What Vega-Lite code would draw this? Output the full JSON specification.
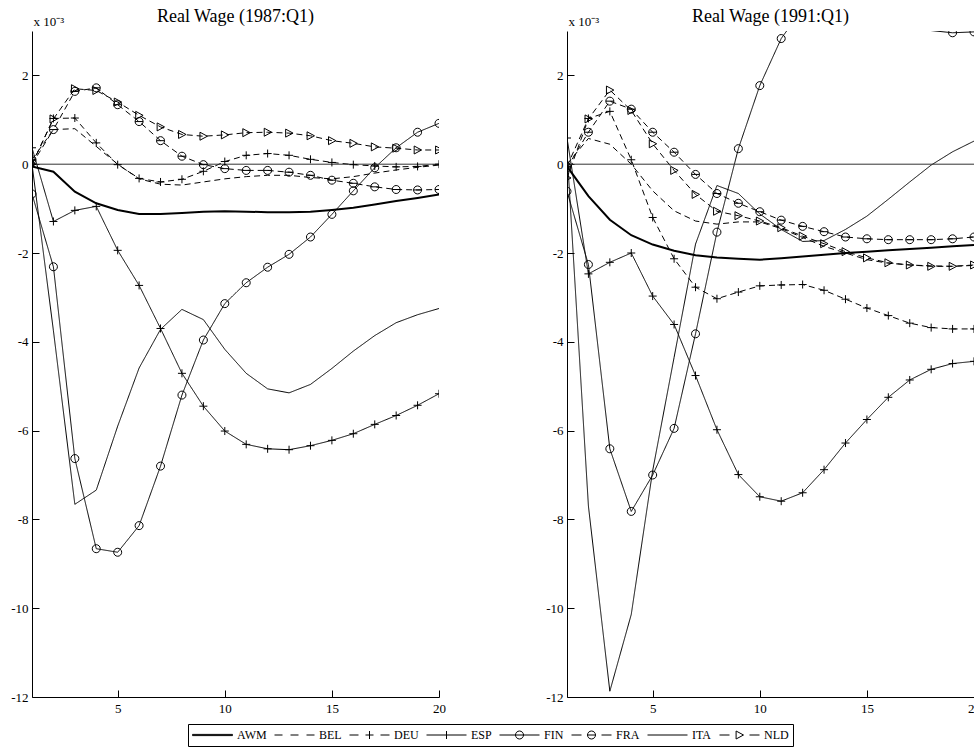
{
  "$schema": "https://vega.github.io/schema/vega-lite/v6.json",
  "padding": {"left": 10, "top": 8, "right": 0, "bottom": 0},
  "background": "white",
  "config": {
    "font": "Liberation Serif",
    "view": {"stroke": null},
    "axis": {"grid": false, "domainColor": "black", "tickColor": "black", "labelColor": "black", "labelFont": "Liberation Serif", "labelFontSize": 13}
  },
  "data": {"values": [
    {"panel":"1987:Q1","series":"AWM","q":1,"value":-0.05},{"panel":"1987:Q1","series":"AWM","q":2,"value":-0.17},{"panel":"1987:Q1","series":"AWM","q":3,"value":-0.62},{"panel":"1987:Q1","series":"AWM","q":4,"value":-0.88},{"panel":"1987:Q1","series":"AWM","q":5,"value":-1.03},{"panel":"1987:Q1","series":"AWM","q":6,"value":-1.12},{"panel":"1987:Q1","series":"AWM","q":7,"value":-1.12},{"panel":"1987:Q1","series":"AWM","q":8,"value":-1.10},{"panel":"1987:Q1","series":"AWM","q":9,"value":-1.07},{"panel":"1987:Q1","series":"AWM","q":10,"value":-1.06},{"panel":"1987:Q1","series":"AWM","q":11,"value":-1.07},{"panel":"1987:Q1","series":"AWM","q":12,"value":-1.08},{"panel":"1987:Q1","series":"AWM","q":13,"value":-1.08},{"panel":"1987:Q1","series":"AWM","q":14,"value":-1.07},{"panel":"1987:Q1","series":"AWM","q":15,"value":-1.03},{"panel":"1987:Q1","series":"AWM","q":16,"value":-0.98},{"panel":"1987:Q1","series":"AWM","q":17,"value":-0.91},{"panel":"1987:Q1","series":"AWM","q":18,"value":-0.83},{"panel":"1987:Q1","series":"AWM","q":19,"value":-0.76},{"panel":"1987:Q1","series":"AWM","q":20,"value":-0.68},
    {"panel":"1987:Q1","series":"BEL","q":1,"value":0.0},{"panel":"1987:Q1","series":"BEL","q":2,"value":0.78},{"panel":"1987:Q1","series":"BEL","q":3,"value":0.80},{"panel":"1987:Q1","series":"BEL","q":4,"value":0.40},{"panel":"1987:Q1","series":"BEL","q":5,"value":0.0},{"panel":"1987:Q1","series":"BEL","q":6,"value":-0.33},{"panel":"1987:Q1","series":"BEL","q":7,"value":-0.45},{"panel":"1987:Q1","series":"BEL","q":8,"value":-0.47},{"panel":"1987:Q1","series":"BEL","q":9,"value":-0.40},{"panel":"1987:Q1","series":"BEL","q":10,"value":-0.33},{"panel":"1987:Q1","series":"BEL","q":11,"value":-0.28},{"panel":"1987:Q1","series":"BEL","q":12,"value":-0.25},{"panel":"1987:Q1","series":"BEL","q":13,"value":-0.25},{"panel":"1987:Q1","series":"BEL","q":14,"value":-0.30},{"panel":"1987:Q1","series":"BEL","q":15,"value":-0.33},{"panel":"1987:Q1","series":"BEL","q":16,"value":-0.28},{"panel":"1987:Q1","series":"BEL","q":17,"value":-0.20},{"panel":"1987:Q1","series":"BEL","q":18,"value":-0.13},{"panel":"1987:Q1","series":"BEL","q":19,"value":-0.07},{"panel":"1987:Q1","series":"BEL","q":20,"value":-0.02},
    {"panel":"1987:Q1","series":"DEU","q":1,"value":0.0},{"panel":"1987:Q1","series":"DEU","q":2,"value":1.03},{"panel":"1987:Q1","series":"DEU","q":3,"value":1.04},{"panel":"1987:Q1","series":"DEU","q":4,"value":0.48},{"panel":"1987:Q1","series":"DEU","q":5,"value":-0.01},{"panel":"1987:Q1","series":"DEU","q":6,"value":-0.32},{"panel":"1987:Q1","series":"DEU","q":7,"value":-0.40},{"panel":"1987:Q1","series":"DEU","q":8,"value":-0.34},{"panel":"1987:Q1","series":"DEU","q":9,"value":-0.16},{"panel":"1987:Q1","series":"DEU","q":10,"value":0.06},{"panel":"1987:Q1","series":"DEU","q":11,"value":0.20},{"panel":"1987:Q1","series":"DEU","q":12,"value":0.24},{"panel":"1987:Q1","series":"DEU","q":13,"value":0.20},{"panel":"1987:Q1","series":"DEU","q":14,"value":0.11},{"panel":"1987:Q1","series":"DEU","q":15,"value":0.04},{"panel":"1987:Q1","series":"DEU","q":16,"value":-0.01},{"panel":"1987:Q1","series":"DEU","q":17,"value":-0.04},{"panel":"1987:Q1","series":"DEU","q":18,"value":-0.06},{"panel":"1987:Q1","series":"DEU","q":19,"value":-0.05},{"panel":"1987:Q1","series":"DEU","q":20,"value":0.0},
    {"panel":"1987:Q1","series":"ESP","q":1,"value":0.37},{"panel":"1987:Q1","series":"ESP","q":2,"value":-1.29},{"panel":"1987:Q1","series":"ESP","q":3,"value":-1.04},{"panel":"1987:Q1","series":"ESP","q":4,"value":-0.95},{"panel":"1987:Q1","series":"ESP","q":5,"value":-1.94},{"panel":"1987:Q1","series":"ESP","q":6,"value":-2.73},{"panel":"1987:Q1","series":"ESP","q":7,"value":-3.70},{"panel":"1987:Q1","series":"ESP","q":8,"value":-4.71},{"panel":"1987:Q1","series":"ESP","q":9,"value":-5.45},{"panel":"1987:Q1","series":"ESP","q":10,"value":-6.01},{"panel":"1987:Q1","series":"ESP","q":11,"value":-6.31},{"panel":"1987:Q1","series":"ESP","q":12,"value":-6.41},{"panel":"1987:Q1","series":"ESP","q":13,"value":-6.43},{"panel":"1987:Q1","series":"ESP","q":14,"value":-6.34},{"panel":"1987:Q1","series":"ESP","q":15,"value":-6.22},{"panel":"1987:Q1","series":"ESP","q":16,"value":-6.07},{"panel":"1987:Q1","series":"ESP","q":17,"value":-5.86},{"panel":"1987:Q1","series":"ESP","q":18,"value":-5.66},{"panel":"1987:Q1","series":"ESP","q":19,"value":-5.43},{"panel":"1987:Q1","series":"ESP","q":20,"value":-5.17},
    {"panel":"1987:Q1","series":"FIN","q":1,"value":-0.67},{"panel":"1987:Q1","series":"FIN","q":2,"value":-2.31},{"panel":"1987:Q1","series":"FIN","q":3,"value":-6.63},{"panel":"1987:Q1","series":"FIN","q":4,"value":-8.66},{"panel":"1987:Q1","series":"FIN","q":5,"value":-8.74},{"panel":"1987:Q1","series":"FIN","q":6,"value":-8.14},{"panel":"1987:Q1","series":"FIN","q":7,"value":-6.80},{"panel":"1987:Q1","series":"FIN","q":8,"value":-5.20},{"panel":"1987:Q1","series":"FIN","q":9,"value":-3.96},{"panel":"1987:Q1","series":"FIN","q":10,"value":-3.14},{"panel":"1987:Q1","series":"FIN","q":11,"value":-2.67},{"panel":"1987:Q1","series":"FIN","q":12,"value":-2.32},{"panel":"1987:Q1","series":"FIN","q":13,"value":-2.03},{"panel":"1987:Q1","series":"FIN","q":14,"value":-1.64},{"panel":"1987:Q1","series":"FIN","q":15,"value":-1.13},{"panel":"1987:Q1","series":"FIN","q":16,"value":-0.60},{"panel":"1987:Q1","series":"FIN","q":17,"value":-0.08},{"panel":"1987:Q1","series":"FIN","q":18,"value":0.37},{"panel":"1987:Q1","series":"FIN","q":19,"value":0.72},{"panel":"1987:Q1","series":"FIN","q":20,"value":0.92},
    {"panel":"1987:Q1","series":"FRA","q":1,"value":0.10},{"panel":"1987:Q1","series":"FRA","q":2,"value":0.78},{"panel":"1987:Q1","series":"FRA","q":3,"value":1.64},{"panel":"1987:Q1","series":"FRA","q":4,"value":1.72},{"panel":"1987:Q1","series":"FRA","q":5,"value":1.34},{"panel":"1987:Q1","series":"FRA","q":6,"value":0.96},{"panel":"1987:Q1","series":"FRA","q":7,"value":0.53},{"panel":"1987:Q1","series":"FRA","q":8,"value":0.18},{"panel":"1987:Q1","series":"FRA","q":9,"value":-0.01},{"panel":"1987:Q1","series":"FRA","q":10,"value":-0.10},{"panel":"1987:Q1","series":"FRA","q":11,"value":-0.14},{"panel":"1987:Q1","series":"FRA","q":12,"value":-0.14},{"panel":"1987:Q1","series":"FRA","q":13,"value":-0.18},{"panel":"1987:Q1","series":"FRA","q":14,"value":-0.25},{"panel":"1987:Q1","series":"FRA","q":15,"value":-0.36},{"panel":"1987:Q1","series":"FRA","q":16,"value":-0.43},{"panel":"1987:Q1","series":"FRA","q":17,"value":-0.51},{"panel":"1987:Q1","series":"FRA","q":18,"value":-0.57},{"panel":"1987:Q1","series":"FRA","q":19,"value":-0.58},{"panel":"1987:Q1","series":"FRA","q":20,"value":-0.57},
    {"panel":"1987:Q1","series":"ITA","q":1,"value":0.0},{"panel":"1987:Q1","series":"ITA","q":2,"value":-3.75},{"panel":"1987:Q1","series":"ITA","q":3,"value":-7.66},{"panel":"1987:Q1","series":"ITA","q":4,"value":-7.34},{"panel":"1987:Q1","series":"ITA","q":5,"value":-5.90},{"panel":"1987:Q1","series":"ITA","q":6,"value":-4.59},{"panel":"1987:Q1","series":"ITA","q":7,"value":-3.72},{"panel":"1987:Q1","series":"ITA","q":8,"value":-3.27},{"panel":"1987:Q1","series":"ITA","q":9,"value":-3.50},{"panel":"1987:Q1","series":"ITA","q":10,"value":-4.17},{"panel":"1987:Q1","series":"ITA","q":11,"value":-4.71},{"panel":"1987:Q1","series":"ITA","q":12,"value":-5.06},{"panel":"1987:Q1","series":"ITA","q":13,"value":-5.15},{"panel":"1987:Q1","series":"ITA","q":14,"value":-4.96},{"panel":"1987:Q1","series":"ITA","q":15,"value":-4.60},{"panel":"1987:Q1","series":"ITA","q":16,"value":-4.21},{"panel":"1987:Q1","series":"ITA","q":17,"value":-3.86},{"panel":"1987:Q1","series":"ITA","q":18,"value":-3.57},{"panel":"1987:Q1","series":"ITA","q":19,"value":-3.39},{"panel":"1987:Q1","series":"ITA","q":20,"value":-3.25},
    {"panel":"1987:Q1","series":"NLD","q":1,"value":0.0},{"panel":"1987:Q1","series":"NLD","q":2,"value":1.02},{"panel":"1987:Q1","series":"NLD","q":3,"value":1.70},{"panel":"1987:Q1","series":"NLD","q":4,"value":1.66},{"panel":"1987:Q1","series":"NLD","q":5,"value":1.40},{"panel":"1987:Q1","series":"NLD","q":6,"value":1.10},{"panel":"1987:Q1","series":"NLD","q":7,"value":0.84},{"panel":"1987:Q1","series":"NLD","q":8,"value":0.67},{"panel":"1987:Q1","series":"NLD","q":9,"value":0.63},{"panel":"1987:Q1","series":"NLD","q":10,"value":0.66},{"panel":"1987:Q1","series":"NLD","q":11,"value":0.71},{"panel":"1987:Q1","series":"NLD","q":12,"value":0.72},{"panel":"1987:Q1","series":"NLD","q":13,"value":0.70},{"panel":"1987:Q1","series":"NLD","q":14,"value":0.64},{"panel":"1987:Q1","series":"NLD","q":15,"value":0.53},{"panel":"1987:Q1","series":"NLD","q":16,"value":0.47},{"panel":"1987:Q1","series":"NLD","q":17,"value":0.39},{"panel":"1987:Q1","series":"NLD","q":18,"value":0.36},{"panel":"1987:Q1","series":"NLD","q":19,"value":0.32},{"panel":"1987:Q1","series":"NLD","q":20,"value":0.32},
    {"panel":"1991:Q1","series":"AWM","q":1,"value":-0.05},{"panel":"1991:Q1","series":"AWM","q":2,"value":-0.72},{"panel":"1991:Q1","series":"AWM","q":3,"value":-1.25},{"panel":"1991:Q1","series":"AWM","q":4,"value":-1.60},{"panel":"1991:Q1","series":"AWM","q":5,"value":-1.81},{"panel":"1991:Q1","series":"AWM","q":6,"value":-1.95},{"panel":"1991:Q1","series":"AWM","q":7,"value":-2.05},{"panel":"1991:Q1","series":"AWM","q":8,"value":-2.10},{"panel":"1991:Q1","series":"AWM","q":9,"value":-2.13},{"panel":"1991:Q1","series":"AWM","q":10,"value":-2.15},{"panel":"1991:Q1","series":"AWM","q":11,"value":-2.12},{"panel":"1991:Q1","series":"AWM","q":12,"value":-2.08},{"panel":"1991:Q1","series":"AWM","q":13,"value":-2.04},{"panel":"1991:Q1","series":"AWM","q":14,"value":-2.00},{"panel":"1991:Q1","series":"AWM","q":15,"value":-1.97},{"panel":"1991:Q1","series":"AWM","q":16,"value":-1.94},{"panel":"1991:Q1","series":"AWM","q":17,"value":-1.91},{"panel":"1991:Q1","series":"AWM","q":18,"value":-1.88},{"panel":"1991:Q1","series":"AWM","q":19,"value":-1.85},{"panel":"1991:Q1","series":"AWM","q":20,"value":-1.82},
    {"panel":"1991:Q1","series":"BEL","q":1,"value":0.0},{"panel":"1991:Q1","series":"BEL","q":2,"value":0.58},{"panel":"1991:Q1","series":"BEL","q":3,"value":0.45},{"panel":"1991:Q1","series":"BEL","q":4,"value":0.0},{"panel":"1991:Q1","series":"BEL","q":5,"value":-0.60},{"panel":"1991:Q1","series":"BEL","q":6,"value":-1.05},{"panel":"1991:Q1","series":"BEL","q":7,"value":-1.28},{"panel":"1991:Q1","series":"BEL","q":8,"value":-1.35},{"panel":"1991:Q1","series":"BEL","q":9,"value":-1.30},{"panel":"1991:Q1","series":"BEL","q":10,"value":-1.30},{"panel":"1991:Q1","series":"BEL","q":11,"value":-1.45},{"panel":"1991:Q1","series":"BEL","q":12,"value":-1.65},{"panel":"1991:Q1","series":"BEL","q":13,"value":-1.85},{"panel":"1991:Q1","series":"BEL","q":14,"value":-2.00},{"panel":"1991:Q1","series":"BEL","q":15,"value":-2.15},{"panel":"1991:Q1","series":"BEL","q":16,"value":-2.23},{"panel":"1991:Q1","series":"BEL","q":17,"value":-2.27},{"panel":"1991:Q1","series":"BEL","q":18,"value":-2.29},{"panel":"1991:Q1","series":"BEL","q":19,"value":-2.30},{"panel":"1991:Q1","series":"BEL","q":20,"value":-2.28},
    {"panel":"1991:Q1","series":"DEU","q":1,"value":-0.05},{"panel":"1991:Q1","series":"DEU","q":2,"value":1.03},{"panel":"1991:Q1","series":"DEU","q":3,"value":1.19},{"panel":"1991:Q1","series":"DEU","q":4,"value":0.10},{"panel":"1991:Q1","series":"DEU","q":5,"value":-1.20},{"panel":"1991:Q1","series":"DEU","q":6,"value":-2.13},{"panel":"1991:Q1","series":"DEU","q":7,"value":-2.77},{"panel":"1991:Q1","series":"DEU","q":8,"value":-3.03},{"panel":"1991:Q1","series":"DEU","q":9,"value":-2.88},{"panel":"1991:Q1","series":"DEU","q":10,"value":-2.74},{"panel":"1991:Q1","series":"DEU","q":11,"value":-2.72},{"panel":"1991:Q1","series":"DEU","q":12,"value":-2.71},{"panel":"1991:Q1","series":"DEU","q":13,"value":-2.84},{"panel":"1991:Q1","series":"DEU","q":14,"value":-3.04},{"panel":"1991:Q1","series":"DEU","q":15,"value":-3.24},{"panel":"1991:Q1","series":"DEU","q":16,"value":-3.41},{"panel":"1991:Q1","series":"DEU","q":17,"value":-3.58},{"panel":"1991:Q1","series":"DEU","q":18,"value":-3.68},{"panel":"1991:Q1","series":"DEU","q":19,"value":-3.71},{"panel":"1991:Q1","series":"DEU","q":20,"value":-3.71},
    {"panel":"1991:Q1","series":"ESP","q":1,"value":0.59},{"panel":"1991:Q1","series":"ESP","q":2,"value":-2.47},{"panel":"1991:Q1","series":"ESP","q":3,"value":-2.21},{"panel":"1991:Q1","series":"ESP","q":4,"value":-2.00},{"panel":"1991:Q1","series":"ESP","q":5,"value":-2.97},{"panel":"1991:Q1","series":"ESP","q":6,"value":-3.61},{"panel":"1991:Q1","series":"ESP","q":7,"value":-4.76},{"panel":"1991:Q1","series":"ESP","q":8,"value":-5.98},{"panel":"1991:Q1","series":"ESP","q":9,"value":-6.99},{"panel":"1991:Q1","series":"ESP","q":10,"value":-7.49},{"panel":"1991:Q1","series":"ESP","q":11,"value":-7.59},{"panel":"1991:Q1","series":"ESP","q":12,"value":-7.40},{"panel":"1991:Q1","series":"ESP","q":13,"value":-6.88},{"panel":"1991:Q1","series":"ESP","q":14,"value":-6.28},{"panel":"1991:Q1","series":"ESP","q":15,"value":-5.75},{"panel":"1991:Q1","series":"ESP","q":16,"value":-5.25},{"panel":"1991:Q1","series":"ESP","q":17,"value":-4.86},{"panel":"1991:Q1","series":"ESP","q":18,"value":-4.62},{"panel":"1991:Q1","series":"ESP","q":19,"value":-4.49},{"panel":"1991:Q1","series":"ESP","q":20,"value":-4.44},
    {"panel":"1991:Q1","series":"FIN","q":1,"value":-0.61},{"panel":"1991:Q1","series":"FIN","q":2,"value":-2.26},{"panel":"1991:Q1","series":"FIN","q":3,"value":-6.41},{"panel":"1991:Q1","series":"FIN","q":4,"value":-7.82},{"panel":"1991:Q1","series":"FIN","q":5,"value":-7.00},{"panel":"1991:Q1","series":"FIN","q":6,"value":-5.95},{"panel":"1991:Q1","series":"FIN","q":7,"value":-3.82},{"panel":"1991:Q1","series":"FIN","q":8,"value":-1.53},{"panel":"1991:Q1","series":"FIN","q":9,"value":0.35},{"panel":"1991:Q1","series":"FIN","q":10,"value":1.77},{"panel":"1991:Q1","series":"FIN","q":11,"value":2.83},{"panel":"1991:Q1","series":"FIN","q":12,"value":3.50},{"panel":"1991:Q1","series":"FIN","q":13,"value":3.80},{"panel":"1991:Q1","series":"FIN","q":14,"value":3.90},{"panel":"1991:Q1","series":"FIN","q":15,"value":3.80},{"panel":"1991:Q1","series":"FIN","q":16,"value":3.55},{"panel":"1991:Q1","series":"FIN","q":17,"value":3.20},{"panel":"1991:Q1","series":"FIN","q":18,"value":3.01},{"panel":"1991:Q1","series":"FIN","q":19,"value":2.96},{"panel":"1991:Q1","series":"FIN","q":20,"value":2.98},
    {"panel":"1991:Q1","series":"FRA","q":1,"value":-0.08},{"panel":"1991:Q1","series":"FRA","q":2,"value":0.72},{"panel":"1991:Q1","series":"FRA","q":3,"value":1.42},{"panel":"1991:Q1","series":"FRA","q":4,"value":1.24},{"panel":"1991:Q1","series":"FRA","q":5,"value":0.72},{"panel":"1991:Q1","series":"FRA","q":6,"value":0.27},{"panel":"1991:Q1","series":"FRA","q":7,"value":-0.23},{"panel":"1991:Q1","series":"FRA","q":8,"value":-0.66},{"panel":"1991:Q1","series":"FRA","q":9,"value":-0.88},{"panel":"1991:Q1","series":"FRA","q":10,"value":-1.07},{"panel":"1991:Q1","series":"FRA","q":11,"value":-1.26},{"panel":"1991:Q1","series":"FRA","q":12,"value":-1.40},{"panel":"1991:Q1","series":"FRA","q":13,"value":-1.52},{"panel":"1991:Q1","series":"FRA","q":14,"value":-1.64},{"panel":"1991:Q1","series":"FRA","q":15,"value":-1.68},{"panel":"1991:Q1","series":"FRA","q":16,"value":-1.70},{"panel":"1991:Q1","series":"FRA","q":17,"value":-1.70},{"panel":"1991:Q1","series":"FRA","q":18,"value":-1.70},{"panel":"1991:Q1","series":"FRA","q":19,"value":-1.68},{"panel":"1991:Q1","series":"FRA","q":20,"value":-1.64},
    {"panel":"1991:Q1","series":"ITA","q":1,"value":0.30},{"panel":"1991:Q1","series":"ITA","q":2,"value":-7.70},{"panel":"1991:Q1","series":"ITA","q":3,"value":-11.87},{"panel":"1991:Q1","series":"ITA","q":4,"value":-10.14},{"panel":"1991:Q1","series":"ITA","q":5,"value":-6.90},{"panel":"1991:Q1","series":"ITA","q":6,"value":-4.35},{"panel":"1991:Q1","series":"ITA","q":7,"value":-1.80},{"panel":"1991:Q1","series":"ITA","q":8,"value":-0.48},{"panel":"1991:Q1","series":"ITA","q":9,"value":-0.66},{"panel":"1991:Q1","series":"ITA","q":10,"value":-1.12},{"panel":"1991:Q1","series":"ITA","q":11,"value":-1.47},{"panel":"1991:Q1","series":"ITA","q":12,"value":-1.74},{"panel":"1991:Q1","series":"ITA","q":13,"value":-1.72},{"panel":"1991:Q1","series":"ITA","q":14,"value":-1.47},{"panel":"1991:Q1","series":"ITA","q":15,"value":-1.17},{"panel":"1991:Q1","series":"ITA","q":16,"value":-0.79},{"panel":"1991:Q1","series":"ITA","q":17,"value":-0.40},{"panel":"1991:Q1","series":"ITA","q":18,"value":-0.02},{"panel":"1991:Q1","series":"ITA","q":19,"value":0.28},{"panel":"1991:Q1","series":"ITA","q":20,"value":0.52},
    {"panel":"1991:Q1","series":"NLD","q":1,"value":-0.31},{"panel":"1991:Q1","series":"NLD","q":2,"value":1.02},{"panel":"1991:Q1","series":"NLD","q":3,"value":1.67},{"panel":"1991:Q1","series":"NLD","q":4,"value":1.21},{"panel":"1991:Q1","series":"NLD","q":5,"value":0.46},{"panel":"1991:Q1","series":"NLD","q":6,"value":-0.14},{"panel":"1991:Q1","series":"NLD","q":7,"value":-0.68},{"panel":"1991:Q1","series":"NLD","q":8,"value":-1.06},{"panel":"1991:Q1","series":"NLD","q":9,"value":-1.16},{"panel":"1991:Q1","series":"NLD","q":10,"value":-1.28},{"panel":"1991:Q1","series":"NLD","q":11,"value":-1.43},{"panel":"1991:Q1","series":"NLD","q":12,"value":-1.62},{"panel":"1991:Q1","series":"NLD","q":13,"value":-1.79},{"panel":"1991:Q1","series":"NLD","q":14,"value":-1.97},{"panel":"1991:Q1","series":"NLD","q":15,"value":-2.11},{"panel":"1991:Q1","series":"NLD","q":16,"value":-2.22},{"panel":"1991:Q1","series":"NLD","q":17,"value":-2.27},{"panel":"1991:Q1","series":"NLD","q":18,"value":-2.30},{"panel":"1991:Q1","series":"NLD","q":19,"value":-2.30},{"panel":"1991:Q1","series":"NLD","q":20,"value":-2.27}
  ]},
  "facet": {
    "column": {
      "field": "panel", "type": "nominal", "title": null,
      "header": {"labelExpr": "'Real Wage (' + datum.value + ')'", "labelFont": "Liberation Serif", "labelFontSize": 18, "labelColor": "black", "labelPadding": 5}
    }
  },
  "spacing": 128,
  "bounds": "flush",
  "resolve": {"axis": {"y": "independent"}},
  "spec": {
    "width": 407,
    "height": 666,
    "layer": [
      {
        "transform": [{"filter": "datum.series === 'AWM'"}],
        "mark": {"type": "line", "color": "black", "strokeWidth": 2, "clip": true},
        "encoding": {
          "x": {"field": "q", "type": "quantitative", "scale": {"domain": [1, 20], "nice": false, "zero": false},
            "axis": {"values": [5, 10, 15, 20], "title": null, "tickSize": -7, "labelPadding": 12, "labelFlush": false}},
          "y": {"field": "value", "type": "quantitative", "scale": {"domain": [-12, 3], "nice": false, "zero": false},
            "axis": {"values": [-12, -10, -8, -6, -4, -2, 0, 2], "labelExpr": "datum.value + ''", "tickSize": -7, "labelPadding": 11,
              "title": "x 10⁻³", "titleAngle": 0, "titleAlign": "left", "titleBaseline": "alphabetic", "titleX": 1, "titleY": -6,
              "titleFont": "Liberation Serif", "titleFontSize": 13, "titleFontWeight": "normal", "titleColor": "black"}}
        }
      },
      {
        "transform": [{"filter": "datum.series !== 'AWM'"}],
        "mark": {"type": "line", "color": "black", "strokeWidth": 1, "clip": true},
        "encoding": {
          "x": {"field": "q", "type": "quantitative"},
          "y": {"field": "value", "type": "quantitative"},
          "detail": {"field": "series"},
          "strokeDash": {"field": "series", "type": "nominal", "legend": null,
            "scale": {"domain": ["BEL", "DEU", "ESP", "FIN", "FRA", "ITA", "NLD"], "range": [[6, 4], [6, 4], [1, 0], [1, 0], [6, 4], [1, 0], [6, 4]]}}
        }
      },
      {
        "transform": [{"filter": "datum.series === 'AWM' && datum.q === 1"}],
        "mark": {"type": "rule", "color": "#333333", "strokeWidth": 1},
        "encoding": {"y": {"datum": 0}}
      },
      {
        "transform": [{"filter": "datum.series === 'DEU' || datum.series === 'ESP'"}],
        "mark": {"type": "point", "shape": "M-1,0H1M0,-1V1", "size": 64, "filled": false, "color": "black", "strokeWidth": 1, "opacity": 1, "clip": true},
        "encoding": {"x": {"field": "q", "type": "quantitative"}, "y": {"field": "value", "type": "quantitative"}}
      },
      {
        "transform": [{"filter": "datum.series === 'FIN' && datum.value <= 3"}],
        "mark": {"type": "point", "shape": "M1,0A1,1 0 1,1 -1,0A1,1 0 1,1 1,0Z", "size": 64, "filled": false, "color": "black", "strokeWidth": 1, "opacity": 1, "clip": true},
        "encoding": {"x": {"field": "q", "type": "quantitative"}, "y": {"field": "value", "type": "quantitative"}}
      },
      {
        "transform": [{"filter": "datum.series === 'FRA'"}],
        "mark": {"type": "point", "shape": "M1,0A1,1 0 1,1 -1,0A1,1 0 1,1 1,0ZM-1,0H1", "size": 64, "filled": false, "color": "black", "strokeWidth": 1, "opacity": 1, "clip": true},
        "encoding": {"x": {"field": "q", "type": "quantitative"}, "y": {"field": "value", "type": "quantitative"}}
      },
      {
        "transform": [{"filter": "datum.series === 'NLD'"}],
        "mark": {"type": "point", "shape": "M-0.85,-1L1,0L-0.85,1Z", "size": 64, "filled": false, "color": "black", "strokeWidth": 1, "opacity": 1, "clip": true},
        "encoding": {"x": {"field": "q", "type": "quantitative"}, "y": {"field": "value", "type": "quantitative"}}
      },
      {
        "mark": {"type": "point", "filled": false, "color": "black", "opacity": 0, "clip": true},
        "encoding": {
          "x": {"field": "q", "type": "quantitative"},
          "y": {"field": "value", "type": "quantitative"},
          "shape": {
            "field": "series", "type": "nominal",
            "scale": {
              "domain": ["AWM", "BEL", "DEU", "ESP", "FIN", "FRA", "ITA", "NLD"],
              "range": [
                "M-1,-0.03H1V0.03H-1Z",
                "M-1,0H-0.6M-0.2,0H0.2M0.6,0H1",
                "M-1,0H-0.55M-0.2,0H0.2M0,-0.2V0.2M0.55,0H1",
                "M-1,0H1M0,-0.2V0.2",
                "M-1,0H1M0.2,0A0.2,0.2 0 1,1 -0.2,0A0.2,0.2 0 1,1 0.2,0",
                "M-1,0H-0.5M0.5,0H1M0.2,0A0.2,0.2 0 1,1 -0.2,0A0.2,0.2 0 1,1 0.2,0M-0.2,0H0.2",
                "M-1,0H1",
                "M-1,0H-0.5M0.5,0H1M-0.17,-0.2L0.2,0L-0.17,0.2Z"
              ]
            },
            "legend": {
              "title": null, "orient": "none", "legendX": 156, "legendY": 693, "direction": "horizontal",
              "strokeColor": "black", "padding": 4, "clipHeight": 14,
              "symbolSize": 1600, "symbolStrokeWidth": 1, "symbolStrokeColor": "black", "symbolFillColor": "transparent", "symbolOpacity": 1,
              "labelFont": "Liberation Serif", "labelFontSize": 12, "labelColor": "black", "labelOffset": 4, "columnPadding": 7,
              "encode": {"symbols": {"update": {"opacity": {"value": 1}, "stroke": {"value": "black"}, "fill": {"value": "transparent"}}}}
            }
          }
        }
      }
    ]
  }
}
